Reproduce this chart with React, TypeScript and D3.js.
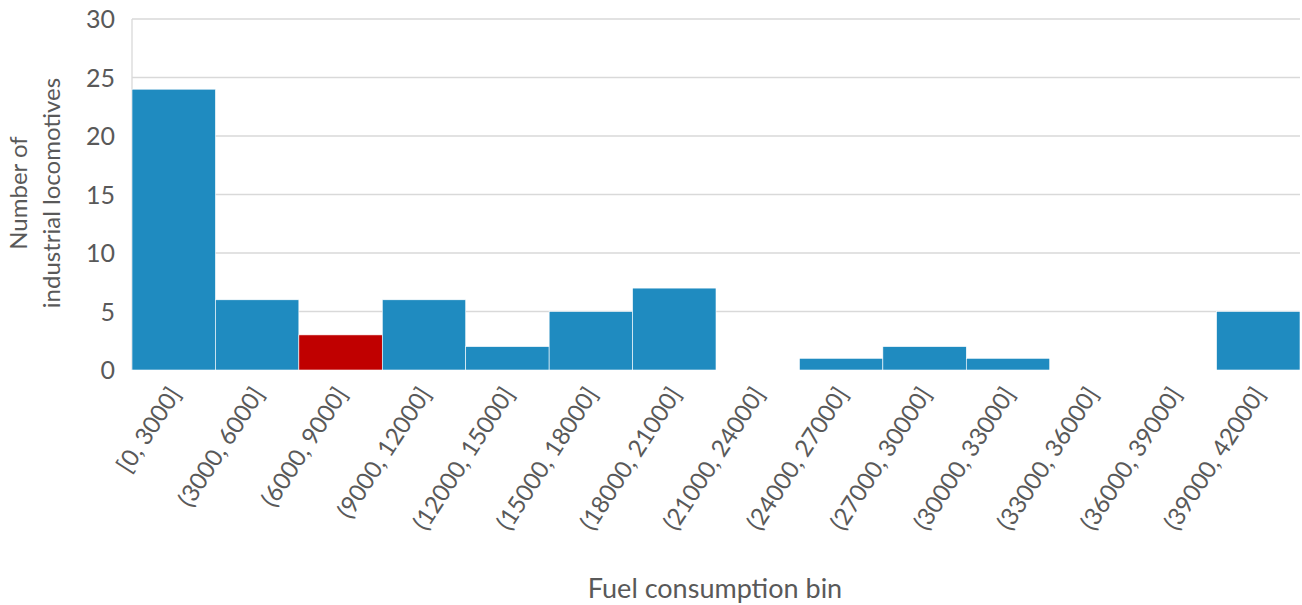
import React, { useEffect, useRef } from "react";
import * as d3 from "d3";

// histogram bins and counts
const bins = [
  "[0, 3000]", "(3000, 6000]", "(6000, 9000]", "(9000, 12000]", "(12000, 15000]",
  "(15000, 18000]", "(18000, 21000]", "(21000, 24000]", "(24000, 27000]", "(27000, 30000]",
  "(30000, 33000]", "(33000, 36000]", "(36000, 39000]", "(39000, 42000]",
];
const counts = [24, 6, 3, 6, 2, 5, 7, 0, 1, 2, 1, 0, 0, 5];
const highlighted = ["(6000, 9000]"];
const yTicks = [0, 5, 10, 15, 20, 25, 30];

const W = 1302;
const H = 605;
const FONT = "Lato, 'Open Sans', sans-serif";

export default function App() {
  const ref = useRef<SVGSVGElement>(null);

  useEffect(() => {
    if (!ref.current) return;
    const svg = d3.select(ref.current);
    svg.selectAll("*").remove();

    const left = 132, right = 1300, top = 19, bottom = 370;

    const x = d3.scaleBand().domain(bins).range([left, right]).padding(0);
    const y = d3.scaleLinear().domain([0, 30]).range([bottom, top]);

    // gridlines
    svg.append("g")
      .selectAll("line")
      .data(yTicks.filter(t => t > 0))
      .enter()
      .append("line")
      .attr("x1", left).attr("x2", right)
      .attr("y1", d => y(d)).attr("y2", d => y(d))
      .attr("stroke", "#d9d9d9").attr("stroke-width", 1.3);

    // left axis line
    svg.append("line")
      .attr("x1", left).attr("x2", left)
      .attr("y1", top).attr("y2", bottom)
      .attr("stroke", "#d9d9d9").attr("stroke-width", 1.3);

    // bars
    svg.append("g")
      .selectAll("rect")
      .data(counts)
      .enter()
      .append("rect")
      .attr("x", (d, i) => x(bins[i])!)
      .attr("width", x.bandwidth())
      .attr("y", d => y(d))
      .attr("height", d => bottom - y(d))
      .attr("fill", (d, i) => highlighted.includes(bins[i]) ? "#c00000" : "#1f8bc0")
      .attr("stroke", "#ffffff")
      .attr("stroke-width", 0.6);

    // y tick labels
    svg.append("g")
      .selectAll("text")
      .data(yTicks)
      .enter()
      .append("text")
      .attr("x", 115)
      .attr("y", d => y(d))
      .attr("dy", "0.36em")
      .attr("text-anchor", "end")
      .attr("font-family", FONT)
      .attr("font-size", 25)
      .attr("fill", "#595959")
      .text(d => d);

    // x tick labels, rotated
    svg.append("g")
      .selectAll("text")
      .data(bins)
      .enter()
      .append("text")
      .attr("transform", d => `translate(${x(d)! + x.bandwidth() / 2 + 8},${bottom + 24}) rotate(-57)`)
      .attr("text-anchor", "end")
      .attr("font-family", FONT)
      .attr("font-size", 24)
      .attr("fill", "#595959")
      .text(d => d);

    // axis titles
    svg.append("text")
      .attr("x", 715)
      .attr("y", 598)
      .attr("text-anchor", "middle")
      .attr("font-family", FONT)
      .attr("font-size", 27)
      .attr("fill", "#595959")
      .text("Fuel consumption bin");

    const yTitle = svg.append("text")
      .attr("transform", `translate(0,193) rotate(-90)`)
      .attr("text-anchor", "middle")
      .attr("font-family", FONT)
      .attr("font-size", 24)
      .attr("fill", "#595959");
    yTitle.append("tspan").attr("x", 0).attr("y", 27).text("Number of");
    yTitle.append("tspan").attr("x", 0).attr("y", 60).text("industrial locomotives");
  }, []);

  return <svg ref={ref} width={W} height={H} style={{ display: "block", position: "absolute", left: 0, top: 0, background: "#fff" }} />;
}
